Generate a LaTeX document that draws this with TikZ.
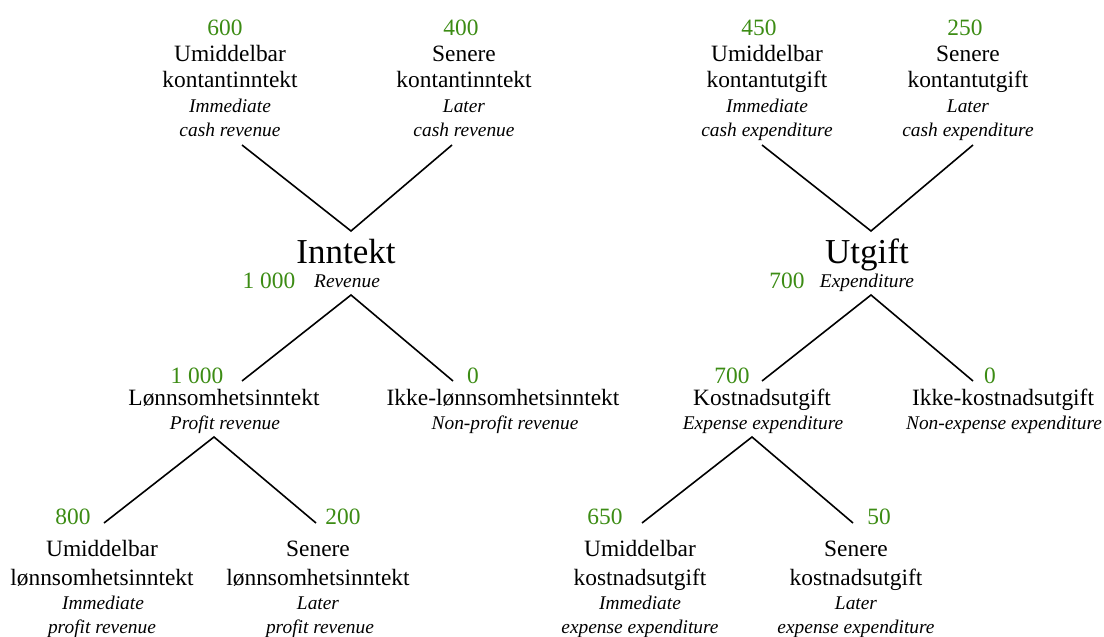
\documentclass[tikz,border=0pt]{standalone}
\usepackage{fontspec}
\setmainfont{Liberation Serif}
\definecolor{numgreen}{RGB}{60,140,20}
\tikzset{
  lbl/.style={anchor=base, inner sep=0pt, font=\fontsize{23.4bp}{26bp}\selectfont},
  eng/.style={anchor=base, inner sep=0pt, font=\fontsize{19.4bp}{22bp}\selectfont\itshape},
  amount/.style={lbl, text=numgreen},
  head/.style={anchor=base, inner sep=0pt, font=\fontsize{35bp}{40bp}\selectfont},
  link/.style={line width=1.6bp, draw=black},
}
\begin{document}
\begin{tikzpicture}[x=1bp, y=-1bp]
\path[fill=white, use as bounding box] (0,0) rectangle (1104,637);

% ---------------- Revenue (Inntekt) ----------------
% immediate cash revenue
\node[amount] (ri-n) at (225,36) {600};
\node[lbl] (ri-a) at (230,62) {Umiddelbar};
\node[lbl] (ri-b) at (230,88) {kontantinntekt};
\node[eng] (ri-c) at (230,113) {Immediate};
\node[eng] (ri-d) at (230,137) {cash revenue};
% later cash revenue
\node[amount] (rl-n) at (461,36) {400};
\node[lbl] (rl-a) at (464,62) {Senere};
\node[lbl] (rl-b) at (464,88) {kontantinntekt};
\node[eng] (rl-c) at (464,113) {Later};
\node[eng] (rl-d) at (464,137) {cash revenue};
% revenue
\node[head] (rev) at (346,263.5) {Inntekt};
\node[eng] (rev-en) at (347,288) {Revenue};
\node[amount] (rev-n) at (269,289) {1 000};
% profit revenue
\node[amount] (rp-n) at (197,383) {1 000};
\node[lbl] (rp-a) at (224,405) {Lønnsomhetsinntekt};
\node[eng] (rp-b) at (225,429) {Profit revenue};
% non-profit revenue
\node[amount] (rn-n) at (473,383) {0};
\node[lbl] (rn-a) at (503,405) {Ikke-lønnsomhetsinntekt};
\node[eng] (rn-b) at (505,429) {Non-profit revenue};
% immediate profit revenue
\node[amount] (rpi-n) at (73,524) {800};
\node[lbl] (rpi-a) at (102,556) {Umiddelbar};
\node[lbl] (rpi-b) at (102,585) {lønnsomhetsinntekt};
\node[eng] (rpi-c) at (103,609) {Immediate};
\node[eng] (rpi-d) at (102,633) {profit revenue};
% later profit revenue
\node[amount] (rpl-n) at (343,524) {200};
\node[lbl] (rpl-a) at (318,556) {Senere};
\node[lbl] (rpl-b) at (318,585) {lønnsomhetsinntekt};
\node[eng] (rpl-c) at (318,609) {Later};
\node[eng] (rpl-d) at (320,633) {profit revenue};

% branch points of the revenue tree
\coordinate (rv-l) at (242,145);
\coordinate (rv-m) at (351,231);
\coordinate (rv-r) at (452,145);
\coordinate (rm-l) at (242,381);
\coordinate (rm-m) at (351,295);
\coordinate (rm-r) at (453,381);
\coordinate (rb-l) at (104,523);
\coordinate (rb-m) at (214,437);
\coordinate (rb-r) at (316,523);
\draw[link] (rv-l) -- (rv-m) -- (rv-r);
\draw[link] (rm-l) -- (rm-m) -- (rm-r);
\draw[link] (rb-l) -- (rb-m) -- (rb-r);

% ---------------- Expenditure (Utgift) ----------------
% immediate cash expenditure
\node[amount] (ei-n) at (759,36) {450};
\node[lbl] (ei-a) at (767,62) {Umiddelbar};
\node[lbl] (ei-b) at (767,88) {kontantutgift};
\node[eng] (ei-c) at (767,113) {Immediate};
\node[eng] (ei-d) at (767,137) {cash expenditure};
% later cash expenditure
\node[amount] (el-n) at (965,36) {250};
\node[lbl] (el-a) at (968,62) {Senere};
\node[lbl] (el-b) at (968,88) {kontantutgift};
\node[eng] (el-c) at (968,113) {Later};
\node[eng] (el-d) at (968,137) {cash expenditure};
% expenditure
\node[head] (exp) at (867,263.5) {Utgift};
\node[eng] (exp-en) at (867,288) {Expenditure};
\node[amount] (exp-n) at (787,289) {700};
% expense expenditure
\node[amount] (ek-n) at (732,383) {700};
\node[lbl] (ek-a) at (762,405) {Kostnadsutgift};
\node[eng] (ek-b) at (763,429) {Expense expenditure};
% non-expense expenditure
\node[amount] (en-n) at (990,383) {0};
\node[lbl] (en-a) at (1003,405) {Ikke-kostnadsutgift};
\node[eng] (en-b) at (1004,429) {Non-expense expenditure};
% immediate expense expenditure
\node[amount] (eki-n) at (605,524) {650};
\node[lbl] (eki-a) at (640,556) {Umiddelbar};
\node[lbl] (eki-b) at (640,585) {kostnadsutgift};
\node[eng] (eki-c) at (640,609) {Immediate};
\node[eng] (eki-d) at (640,633) {expense expenditure};
% later expense expenditure
\node[amount] (ekl-n) at (879,524) {50};
\node[lbl] (ekl-a) at (856,556) {Senere};
\node[lbl] (ekl-b) at (856,585) {kostnadsutgift};
\node[eng] (ekl-c) at (856,609) {Later};
\node[eng] (ekl-d) at (856,633) {expense expenditure};

% branch points of the expenditure tree
\coordinate (ev-l) at (762,145);
\coordinate (ev-m) at (871,231);
\coordinate (ev-r) at (973,145);
\coordinate (em-l) at (762,381);
\coordinate (em-m) at (871,295);
\coordinate (em-r) at (973,381);
\coordinate (eb-l) at (642,523);
\coordinate (eb-m) at (752,437);
\coordinate (eb-r) at (853,523);
\draw[link] (ev-l) -- (ev-m) -- (ev-r);
\draw[link] (em-l) -- (em-m) -- (em-r);
\draw[link] (eb-l) -- (eb-m) -- (eb-r);
\end{tikzpicture}
\end{document}
